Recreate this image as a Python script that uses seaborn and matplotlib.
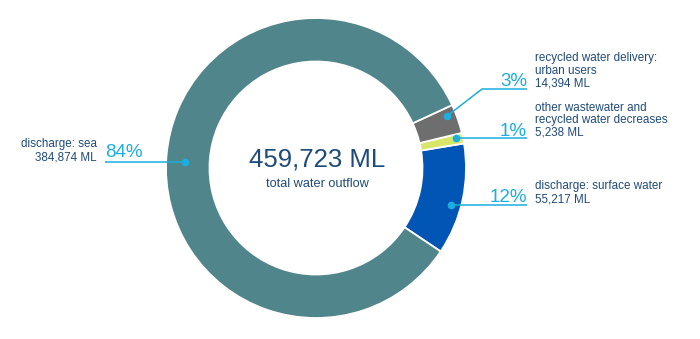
import matplotlib
matplotlib.use("Agg")
import matplotlib.pyplot as plt
import seaborn as sns
import numpy as np

# ---------------- data ----------------
categories = ["discharge: surface water",
              "other wastewater and recycled water decreases",
              "recycled water delivery: urban users",
              "discharge: sea"]
values_ml = [55217, 5238, 14394, 384874]
pct_labels = ["12%", "1%", "3%", "84%"]
label_lines = [["discharge: surface water", "55,217 ML"],
               ["other wastewater and", "recycled water decreases", "5,238 ML"],
               ["recycled water delivery:", "urban users", "14,394 ML"],
               ["discharge: sea", "384,874 ML"]]
total_text = "459,723 ML"
total_caption = "total water outflow"

# ---------------- style ----------------
colors = ["#0055B5", "#D8E46A", "#6E6E6E", "#50868B"]
text_dark = "#1F4B7C"
accent = "#1BAEDF"

sns.set_theme(style="white")
plt.rcParams["font.family"] = ["Liberation Sans", "DejaVu Sans"]

W, H = 700, 339
fig = plt.figure(figsize=(W / 100, H / 100), dpi=100)
ax = fig.add_axes([0, 0, 1, 1])

def Y(py):
    return H - py

cx, cy_px = 316, 168
R_out, ring_w = 150, 43.5

ax.pie(values_ml, startangle=-33.8, counterclock=True, colors=colors,
       center=(cx, Y(cy_px)), radius=R_out, frame=True,
       wedgeprops=dict(width=ring_w, edgecolor="white", linewidth=1.3))

ax.set_xlim(0, W)
ax.set_ylim(0, H)
ax.set_aspect("auto")
ax.axis("off")

# layout per category: dot y (px), dot radius, side, line y, elbow x, end x
layout = [
    dict(dot_y=204.5, r=140, side=1, line_y=204.5, elbow=None, end=527),
    dict(dot_y=138.3, r=143, side=1, line_y=138.3, elbow=None, end=527),
    dict(dot_y=116.0, r=141, side=1, line_y=89.0, elbow=482, end=527),
    dict(dot_y=162.0, r=131, side=-1, line_y=162.0, elbow=None, end=105),
]

for i, lay in enumerate(layout):
    dy = cy_px - lay["dot_y"]
    dx = np.sqrt(lay["r"] ** 2 - dy ** 2) * lay["side"]
    dot_x = cx + dx
    xs = [dot_x]
    ys = [Y(lay["dot_y"])]
    if lay["elbow"] is not None:
        xs.append(lay["elbow"])
        ys.append(Y(lay["line_y"]))
    xs.append(lay["end"])
    ys.append(Y(lay["line_y"]))
    ax.plot(xs, ys, color=accent, lw=1.1, solid_capstyle="butt", zorder=5)
    ax.plot([dot_x], [Y(lay["dot_y"])], "o", color=accent, ms=5.5,
            markeredgewidth=0, zorder=6)

    lines = label_lines[i]
    lh = 12.6
    if lay["side"] == 1:
        base = lay["line_y"] - 2.5
        ax.text(527, Y(base), pct_labels[i], ha="right", va="baseline",
                fontsize=13.5, color=accent)
        for k, s in enumerate(lines):
            b = base - (len(lines) - 1 - k) * lh
            ax.text(535, Y(b), s, ha="left", va="baseline",
                    fontsize=8.4, color=text_dark)
    else:
        ax.text(105, Y(lay["line_y"] - 5), pct_labels[i], ha="left",
                va="baseline", fontsize=13.5, color=accent)
        base = 160
        for k, s in enumerate(lines):
            b = base - (len(lines) - 1 - k) * lh
            ax.text(97, Y(b), s, ha="right", va="baseline",
                    fontsize=8.4, color=text_dark)

ax.text(cx + 1, Y(166.7), total_text, ha="center", va="baseline",
        fontsize=18.5, color=text_dark)
ax.text(cx + 1, Y(187.3), total_caption, ha="center", va="baseline",
        fontsize=9.2, color=text_dark)

fig.savefig("out.png", dpi=100)
